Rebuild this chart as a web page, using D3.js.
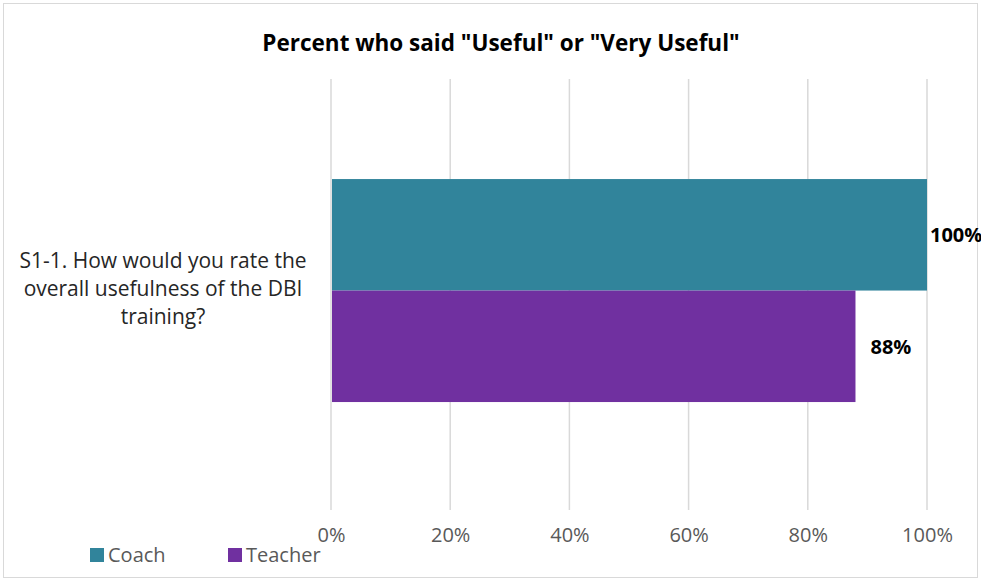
<!DOCTYPE html>
<html>
<head>
<meta charset="utf-8">
<script src="https://cdn.jsdelivr.net/npm/d3@7"></script>
<style>
  html, body { margin: 0; padding: 0; background: #fff; }
  svg { display: block; font-family: "Open Sans", "Liberation Sans", sans-serif; }
</style>
</head>
<body>
<svg id="chart" width="981" height="581"></svg>
<script>
// Survey item and the share of each group answering "Useful" or "Very Useful"
const categories = ["S1-1. How would you rate the overall usefulness of the DBI training?"];
const categoryLines = [["S1-1. How would you rate the", "overall usefulness of the DBI", "training?"]];
const seriesNames = ["Coach", "Teacher"];
const coachValues = [1.00];
const teacherValues = [0.88];
const tickValues = [0, 0.2, 0.4, 0.6, 0.8, 1.0];
const colors = ["#31849B", "#7030A0"];
const title = 'Percent who said "Useful" or "Very Useful"';

const svg = d3.select("#chart");
const W = 981, H = 581;

// outer chart frame
svg.append("rect")
  .attr("x", 3.5).attr("y", 3.5)
  .attr("width", W - 7).attr("height", H - 7)
  .attr("fill", "#fff").attr("stroke", "#d9d9d9").attr("stroke-width", 1);

const plot = { left: 331, right: 927, top: 79, bottom: 510 };

const x = d3.scaleLinear().domain([0, 1]).range([plot.left, plot.right]);
const y = d3.scaleBand().domain(categories).range([plot.top, plot.bottom])
  .paddingInner(0).paddingOuter(0.4664).align(0.481);
const ySub = d3.scaleBand().domain(seriesNames).range([0, y.bandwidth()]).padding(0);

// vertical gridlines
svg.append("g")
  .selectAll("line")
  .data(tickValues)
  .join("line")
  .attr("x1", d => x(d)).attr("x2", d => x(d))
  .attr("y1", plot.top).attr("y2", plot.bottom)
  .attr("stroke", "#d9d9d9").attr("stroke-width", 1.5);

// bottom axis labels
const xAxis = d3.axisBottom(x).tickValues(tickValues).tickFormat(d3.format(".0%")).tickSize(0).tickPadding(0);
const axisG = svg.append("g").attr("transform", `translate(0, 542)`).call(xAxis);
axisG.select(".domain").remove();
axisG.selectAll("text")
  .attr("font-family", "Open Sans, sans-serif")
  .attr("font-size", 20)
  .attr("fill", "#595959")
  .attr("dy", "0");

const rows = categories.map((c, i) => ({ category: c, values: [coachValues[i], teacherValues[i]] }));

const group = svg.append("g")
  .selectAll("g")
  .data(rows)
  .join("g")
  .attr("transform", d => `translate(0, ${y(d.category)})`);

group.selectAll("rect")
  .data(d => d.values.map((v, j) => ({ name: seriesNames[j], value: v, j })))
  .join("rect")
  .attr("x", x(0) + 1)
  .attr("y", d => ySub(d.name))
  .attr("width", d => x(d.value) - x(0) - 1)
  .attr("height", ySub.bandwidth())
  .attr("fill", d => colors[d.j]);

// value labels, placed past the bar end
const labelGap = [3, 15];
group.selectAll("text.val")
  .data(d => d.values.map((v, j) => ({ name: seriesNames[j], value: v, j })))
  .join("text")
  .attr("class", "val")
  .attr("x", d => x(d.value) + labelGap[d.j])
  .attr("y", d => ySub(d.name) + ySub.bandwidth() / 2 + 7.5)
  .attr("font-size", 20)
  .attr("font-weight", "bold")
  .attr("fill", "#000")
  .text(d => d3.format(".0%")(d.value));

// category label, wrapped
const catG = svg.append("g");
rows.forEach((r, i) => {
  const cy = y(r.category) + y.bandwidth() / 2;
  const lines = categoryLines[i];
  const lh = 28;
  lines.forEach((ln, k) => {
    catG.append("text")
      .attr("x", 163)
      .attr("y", cy + (k - (lines.length - 1) / 2) * lh + 5)
      .attr("text-anchor", "middle")
      .attr("font-size", 21)
      .attr("fill", "#262626")
      .text(ln);
  });
});

// title
svg.append("text")
  .attr("x", 501).attr("y", 51)
  .attr("text-anchor", "middle")
  .attr("font-size", 22.5)
  .attr("font-weight", "bold")
  .attr("fill", "#000")
  .text(title);

// legend
const legend = svg.append("g").attr("transform", "translate(90, 562)");
const legendX = [0, 138];
seriesNames.forEach((n, i) => {
  const g = legend.append("g").attr("transform", `translate(${legendX[i]}, 0)`);
  g.append("rect").attr("x", 0).attr("y", -14).attr("width", 14).attr("height", 14).attr("fill", colors[i]);
  g.append("text").attr("x", 18).attr("y", 0).attr("font-size", 20).attr("fill", "#595959").text(n);
});
</script>
</body>
</html>
